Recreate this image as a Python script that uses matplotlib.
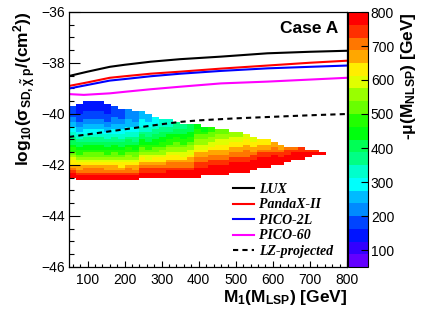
import colorsys
import numpy as np
import matplotlib
matplotlib.use("Agg")
import matplotlib.pyplot as plt
from matplotlib.colors import ListedColormap, BoundaryNorm
from matplotlib.ticker import MultipleLocator

plt.rcParams['font.family'] = ['Liberation Sans', 'DejaVu Sans']
plt.rcParams['mathtext.fontset'] = 'custom'
plt.rcParams['mathtext.rm'] = 'Liberation Sans'
plt.rcParams['mathtext.it'] = 'Liberation Sans:italic'
plt.rcParams['mathtext.bf'] = 'Liberation Sans:bold'

# direct detection limits: log10(sigma_SD) vs M1 [GeV]
m1_lux = [50, 100, 160, 200, 270, 350, 460, 585, 700, 800]
lux = [-38.51, -38.34, -38.15, -38.07, -37.95, -37.85, -37.75, -37.62, -37.56, -37.52]
m1_pandax = [50, 100, 160, 200, 270, 350, 460, 585, 700, 800]
pandax = [-38.90, -38.76, -38.58, -38.52, -38.42, -38.34, -38.22, -38.10, -37.99, -37.91]
m1_pico2l = [50, 100, 160, 200, 270, 350, 460, 585, 700, 800]
pico2l = [-39.00, -38.86, -38.69, -38.63, -38.52, -38.42, -38.31, -38.21, -38.15, -38.10]
m1_pico60 = [50, 90, 160, 200, 270, 350, 460, 585, 700, 800]
pico60 = [-39.22, -39.25, -39.19, -39.13, -39.03, -38.93, -38.80, -38.73, -38.65, -38.58]
m1_lz = [50, 100, 150, 200, 250, 300, 350, 400, 500, 600, 700, 800]
lz = [-40.90, -40.80, -40.70, -40.60, -40.50, -40.40, -40.31, -40.25, -40.17, -40.11, -40.05, -40.00]

# scan points binned like the TH2: 40 bins in M1 (50-800), 0.1 in log10(sigma)
# for each M1 bin: upper edge of filled cells and colour level of each cell from top down
# level code k -> mu bin 50+37.5*k ... 50+37.5*(k+1)
col_top = [-39.7, -39.6, -39.5, -39.5, -39.5, -39.6, -39.7, -39.8, -39.8, -39.9,
           -39.9, -40.0, -40.1, -40.2, -40.2, -40.3, -40.4, -40.4, -40.4, -40.5,
           -40.5, -40.6, -40.6, -40.7, -40.7, -40.8, -40.9, -41.0, -41.0, -41.1,
           -41.2, -41.3, -41.3, -41.3, -41.4, -41.4, -41.5]
col_levels = [
    "333344556677899abbcdeffghijj",
    "22223334455677899abbcdefgghijj",
    "22223334455667889aabccdefghhijj",
    "22223334455667889aabccdefghhijj",
    "22223334455667889aabccdefghhijj",
    "22223334455677899abbcdefgghijj",
    "333344455667889aabccdefgghijj",
    "333344556677899abbcdeffghijj",
    "44445556677899abbcddefghhijj",
    "4444556677889aabccdefgghijj",
    "55566677899aabccdeffghiijj",
    "55566778899abbcdeefghiijj",
    "666778899aabccdeffghiijj",
    "7778899aabbcddeffghiijj",
    "777889aabbcddeffghhijjj",
    "88899abbccddeffghhijjj",
    "8899aabbcddeefghhijjj",
    "999aabbcddeefgghhijjj",
    "aabbccddeefgghhiijjjj",
    "aabccddeefgghhiijjj",
    "bbccddeefgghhiijjjj",
    "ccddeeffgghhiijjjj",
    "ccddeeffgghhiijjjj",
    "ddeeffgghhiijjjj",
    "ddeeffgghhiijjjj",
    "eeffgghhhiijjjj",
    "eeffgghiijjjj",
    "ffgghiijjjj",
    "ffgghiijjjj",
    "gghhijjjj",
    "gghiijjj",
    "hiijjj",
    "hijjj",
    "iijjj",
    "ijj",
    "ij",
    "j",
]
codes = "0123456789abcdefghij"

x_edges = np.linspace(50, 800, 41)
y_edges = np.linspace(-46, -36, 101)
Z = np.full((100, 40), np.nan)
for c, (top, lev) in enumerate(zip(col_top, col_levels)):
    rt = int(round((top + 46) / 0.1)) - 1
    for k, ch in enumerate(lev):
        Z[rt - k, c] = 50 + 37.5 * (codes.index(ch) + 0.5)
Z = np.ma.masked_invalid(Z)

# ROOT "pretty" palette with 20 contours
cols = []
for j in range(20):
    idx = int((j + 0.99) * 50 / 20)
    hue = 280 - (idx + 1) * 5.6
    cols.append(colorsys.hls_to_rgb(hue / 360.0, 0.5, 1.0))
cmap = ListedColormap(cols)
norm = BoundaryNorm(np.linspace(50, 800, 21), 20)

fig = plt.figure(figsize=(4.33, 3.14), dpi=100)
ax = fig.add_axes([69/433, 47/314, 278/433, 255/314])
cax = fig.add_axes([348/433, 47/314, 20/433, 255/314])

mesh = ax.pcolormesh(x_edges, y_edges, Z, cmap=cmap, norm=norm,
                     edgecolors='none', antialiased=False)

ax.plot(m1_lux, lux, color='black', lw=1.5, label='LUX')
ax.plot(m1_pandax, pandax, color='red', lw=1.5, label='PandaX-II')
ax.plot(m1_pico2l, pico2l, color='blue', lw=1.5, label='PICO-2L')
ax.plot(m1_pico60, pico60, color='magenta', lw=1.5, label='PICO-60')
ax.plot(m1_lz, lz, color='black', lw=1.5, ls=(0, (2.5, 2)), label='LZ-projected')

ax.set_xlim(50, 800)
ax.set_ylim(-46, -36)
ax.set_xticks(range(100, 801, 100))
ax.yaxis.set_major_locator(MultipleLocator(2))
ax.xaxis.set_minor_locator(MultipleLocator(20))
ax.yaxis.set_minor_locator(MultipleLocator(0.5))
ax.tick_params(axis='both', which='both', direction='in', width=0.8, labelsize=10)
ax.tick_params(axis='x', which='major', length=4.5, pad=4)
ax.tick_params(axis='x', which='minor', length=2.2)
ax.tick_params(axis='y', which='major', length=8, pad=3)
ax.tick_params(axis='y', which='minor', length=3.6)
for s in ax.spines.values():
    s.set_linewidth(0.9)

ax.text((338-69)/278, (267-33)/255, 'Case A', ha='right', va='baseline',
        fontsize=12.5, fontweight='bold', transform=ax.transAxes)

leg = ax.legend(loc='upper left', bbox_to_anchor=((226-69)/278, (267-176)/255),
                frameon=False, borderpad=0, handlelength=1.55, handletextpad=0.35,
                labelspacing=0.18,
                prop={'family': 'Liberation Serif', 'weight': 'bold',
                      'style': 'italic', 'size': 10})

cb = fig.colorbar(mesh, cax=cax, ticks=range(100, 801, 100))
cb.outline.set_linewidth(0.8)
cax.tick_params(axis='y', which='major', direction='in', length=5, width=0.8,
                labelsize=10, pad=2, right=True, left=False)
cax.minorticks_off()

fig.text(25/433, 1 - 12/314, r'$\mathbf{log_{10}(\sigma_{SD,\tilde{\chi}\ p}/(cm^{2}))}$',
         rotation=90, ha='center', va='top', fontsize=12.5, fontweight='bold')
fig.text(347/433, (314-302)/314, r'$\mathbf{M_{1}(M_{LSP})}$ [GeV]',
         ha='right', va='baseline', fontsize=12.5, fontweight='bold')
fig.text(409/433, 1 - 12/314, r'-$\mathbf{\mu(M_{NLSP})}$ [GeV]',
         rotation=90, ha='center', va='top', fontsize=12.5, fontweight='bold')

fig.savefig('out.png', dpi=100)
